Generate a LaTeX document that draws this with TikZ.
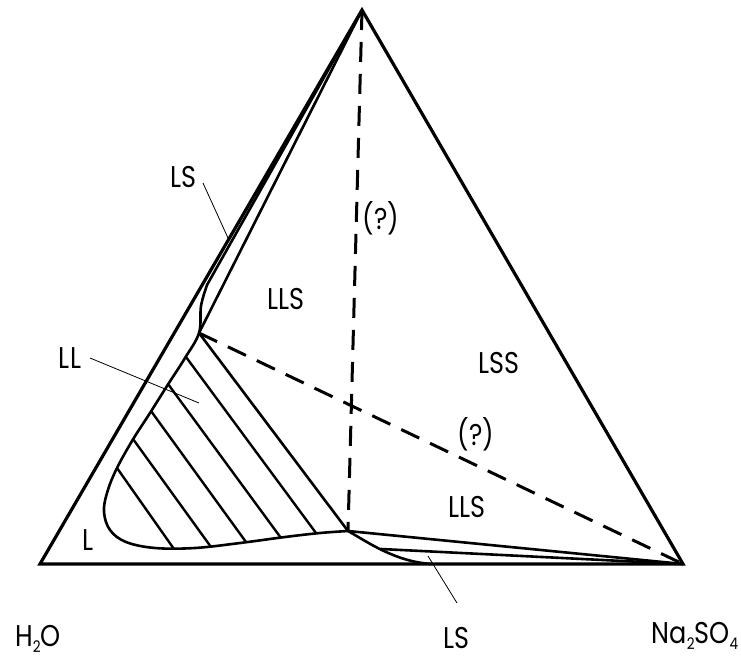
\documentclass[tikz,border=0pt]{standalone}
\usepackage{fontspec}
\setmainfont{Poppins}[FakeStretch=0.85]
\usepackage{tikz}
\usetikzlibrary{positioning}

\newcommand{\chemsub}[1]{\raisebox{-6pt}{\fontsize{16}{16}\selectfont #1}}

\begin{document}
\begin{tikzpicture}[
        x=1pt, y=-1pt,
        outline/.style={line width=3.2pt, line join=miter},
        phaseline/.style={line width=2.6pt, line join=round},
        tieline/.style={line width=2.4pt},
        dashline/.style={line width=3pt, dash pattern=on 20pt off 12pt},
        leaderline/.style={line width=0.8pt},
        regionnode/.style={font=\fontsize{30}{33}\selectfont, inner sep=0pt, anchor=base}
    ]
        \useasboundingbox (0,0) rectangle (741,660);

        % Corners and special points
        \coordinate (Water) at (40,564);
        \coordinate (Salt) at (683,564);
        \coordinate (Top) at (362,10);
        \coordinate (Corner) at (199,333);
        \coordinate (Plait) at (348,531);
        \coordinate (Branch) at (381,549);

        % Outer triangle
        \draw[outline] (Water) -- (Salt) -- (Top) -- cycle;

        % Boundary of the liquid region
        \draw[phaseline] (Top) -- plot[smooth, tension=0.6] coordinates {(207,285) (201,306) (199,333)
            (185,358) (167,386) (150,413) (132,441) (116,470) (107,493) (104,512) (110,530)
            (126,542) (155,548) (195,548) (240,543) (285,537) (320,533) (348,531)};
        \draw[phaseline] (Plait) .. controls (366,541) and (395,562) .. (432,564);

        % Three phase boundaries
        \draw[phaseline] (Corner) -- (Top);
        \draw[phaseline] (Corner) -- (Plait);
        \draw[phaseline] (Plait) -- (Salt);
        \draw[phaseline] (Branch) -- (Salt);

        % Tie lines in the two liquid region
        \foreach \sx/\sy/\ex/\ey in {186/357/316/533, 168/384/281/538, 151/411/246/542,
                                     133/439/211/547, 117/468/174/549}
            \draw[tieline] (\sx,\sy) -- (\ex,\ey);

        % Uncertain boundaries
        \draw[dashline] (Top) -- (Plait);
        \draw[dashline] (Corner) -- (Salt);

        % Region names
        \node[regionnode] (RegionLS1) at (183,188) {LS};
        \node[regionnode] (Question1) at (381,230) {(?)};
        \node[regionnode] (RegionLLS1) at (286,309) {LLS};
        \node[regionnode] (RegionLSS) at (499,373) {LSS};
        \node[regionnode] (RegionLL) at (70,368) {LL};
        \node[regionnode] (Question2) at (476,445) {(?)};
        \node[regionnode] (RegionLLS2) at (467,517) {LLS};
        \node[regionnode] (RegionL) at (88,550) {L};
        \node[regionnode] (RegionLS2) at (456,648) {LS};

        % Components
        \node[regionnode] (CompWater) at (38,646) {H\chemsub{2}O};
        \node[regionnode] (CompSalt) at (695,643) {Na\chemsub{2}SO\chemsub{4}};

        % Leaders
        \coordinate (LeadLS1a) at (203,183);
        \coordinate (LeadLS1b) at (228,238);
        \coordinate (LeadLLa) at (90,358);
        \coordinate (LeadLLb) at (199,403);
        \coordinate (LeadLS2a) at (428,556);
        \coordinate (LeadLS2b) at (457,603);
        \draw[leaderline] (LeadLS1a) -- (LeadLS1b);
        \draw[leaderline] (LeadLLa) -- (LeadLLb);
        \draw[leaderline] (LeadLS2a) -- (LeadLS2b);

\end{tikzpicture}
\end{document}
